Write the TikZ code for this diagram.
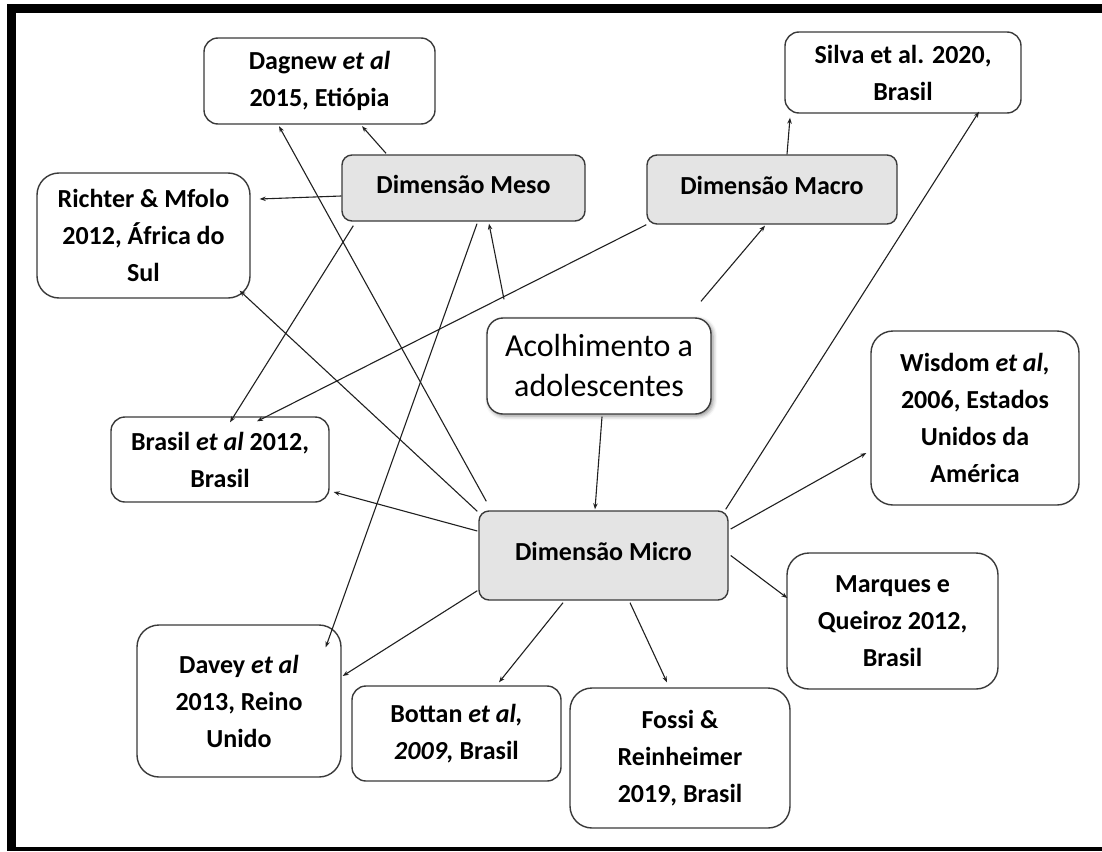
\documentclass[tikz,border=0pt]{standalone}
\usepackage{fontspec}
\setmainfont{Carlito}
\usetikzlibrary{arrows.meta,shadows.blur}
\definecolor{bordc}{HTML}{3A3A3A}
\definecolor{dimfill}{HTML}{E4E4E4}
\definecolor{linec}{HTML}{202020}
\newcommand\reffont{\bfseries\fontsize{26}{37}\selectfont}
\newcommand\acolfont{\fontsize{32}{40}\selectfont}
\tikzset{
  refbox/.style={draw=bordc, line width=1.4pt, rounded corners=14pt, fill=white,
    align=center, inner sep=0pt, font=\reffont, text=black},
  tallbox/.style={refbox, rounded corners=22pt},
  dimbox/.style={refbox, fill=dimfill, rounded corners=10pt, text depth=8pt},
  conn/.style={draw=linec, line width=1.1pt, -{Stealth[length=6pt,width=4.5pt]}},
}
\begin{document}
\begin{tikzpicture}[x=1pt,y=-1pt]
\useasboundingbox (0,0) rectangle (1102,851);
% frame
\fill[black] (7,4) rectangle (1102,13);
\fill[black] (7,4) rectangle (16,851);
\fill[black] (7,847) rectangle (1102,851);

% nodes
\node[refbox, minimum width=231pt, minimum height=86pt] (dagnew) at (319.5,81) {Dagnew \textit{et al}\\2015, Etiópia};
\node[tallbox, minimum width=213pt, minimum height=125pt] (richter) at (143.5,235.5) {Richter \& Mfolo\\2012, África do\\Sul};
\node[dimbox, minimum width=243pt, minimum height=66pt] (meso) at (463.5,188) {Dimensão Meso};
\node[dimbox, minimum width=250pt, minimum height=69pt] (macro) at (772,189.5) {Dimensão Macro};
\node[refbox, minimum width=236pt, minimum height=81pt] (silva) at (903,72.5) {Silva et al. 2020,\\Brasil};
\node[refbox, rounded corners=16pt, minimum width=224pt, minimum height=96pt, font=\acolfont,
      blur shadow={shadow xshift=2pt, shadow yshift=-2pt, shadow blur radius=4pt, shadow opacity=45}] (acol) at (599,366) {Acolhimento a\\adolescentes};
\node[dimbox, minimum width=249pt, minimum height=89pt] (micro) at (603.5,555.5) {Dimensão Micro};
\node[tallbox, minimum width=208pt, minimum height=174pt] (wisdom) at (975,418) {Wisdom \textit{et al,}\\2006, Estados\\Unidos da\\América};
\node[tallbox, minimum width=211pt, minimum height=136pt] (marques) at (892.5,621) {Marques e\\Queiroz 2012,\\Brasil};
\node[tallbox, minimum width=220pt, minimum height=140pt] (fossi) at (680,758) {Fossi \&\\Reinheimer\\2019, Brasil};
\node[refbox, minimum width=209pt, minimum height=95pt] (bottan) at (456.5,733.5) {Bottan \textit{et al,}\\\textit{2009,} Brasil};
\node[tallbox, minimum width=204pt, minimum height=152pt] (davey) at (239,701) {Davey \textit{et al}\\2013, Reino\\Unido};
\node[refbox, minimum width=218pt, minimum height=85pt] (brasil) at (220,459.5) {Brasil \textit{et al} 2012,\\Brasil};

% connectors from Meso
\draw[conn] ([xshift=-77.5pt,yshift=1pt]meso.north) -- ([xshift=42.5pt,yshift=-1.5pt]dagnew.south);
\draw[conn] ([yshift=-8pt]meso.west) -- ([xshift=9pt,yshift=36.5pt]richter.east);
\draw[conn] ([xshift=12pt,yshift=-4pt]meso.south west) -- ([xshift=10pt,yshift=-6pt]brasil.north);
\draw[conn] ([xshift=13.5pt,yshift=-2pt]meso.south) -- ([xshift=-16pt,yshift=-23pt]davey.north east);
% connectors from Macro
\draw[conn] (macro.south west) -- ([xshift=37pt,yshift=-5pt]brasil.north);
\draw[conn] ([xshift=15pt]macro.north) -- ([xshift=-113pt,yshift=-4pt]silva.south);
% connectors from Acolhimento
\draw[conn] ([xshift=102pt,yshift=16pt]acol.north) -- ([xshift=-7pt,yshift=-1pt]macro.south);
\draw[conn] ([xshift=-95pt,yshift=18pt]acol.north) -- ([xshift=25.5pt,yshift=-2pt]meso.south);
\draw[conn] ([xshift=3pt,yshift=-2pt]acol.south) -- ([xshift=-8.5pt,yshift=1pt]micro.north);
% connectors from Micro
\draw[conn] ([xshift=8pt,yshift=9pt]micro.north west) -- ([xshift=-40.5pt,yshift=-1.5pt]dagnew.south);
\draw[conn] ([xshift=-1pt,yshift=-1pt]micro.north west) -- ([xshift=-11pt,yshift=8pt]richter.south east);
\draw[conn] ([xshift=-3pt,yshift=1pt]micro.north east) -- ([xshift=76pt,yshift=2pt]silva.south);
\draw[conn] ([xshift=-1pt,yshift=24.5pt]micro.west) -- ([xshift=4pt,yshift=-32.5pt]brasil.east);
\draw[conn] ([xshift=-1pt,yshift=10pt]micro.south west) -- ([xshift=1pt,yshift=25pt]davey.east);
\draw[conn] ([xshift=-40.5pt,yshift=-2pt]micro.south) -- ([xshift=42.5pt,yshift=3pt]bottan.north);
\draw[conn] ([xshift=26.5pt,yshift=-2pt]micro.south) -- ([xshift=-13pt,yshift=5pt]fossi.north);
\draw[conn] ([xshift=2pt]micro.east) -- ([xshift=1pt,yshift=23pt]marques.west);
\draw[conn] ([xshift=2pt,yshift=26.5pt]micro.east) -- ([xshift=-4pt,yshift=-35pt]wisdom.west);
\end{tikzpicture}
\end{document}
